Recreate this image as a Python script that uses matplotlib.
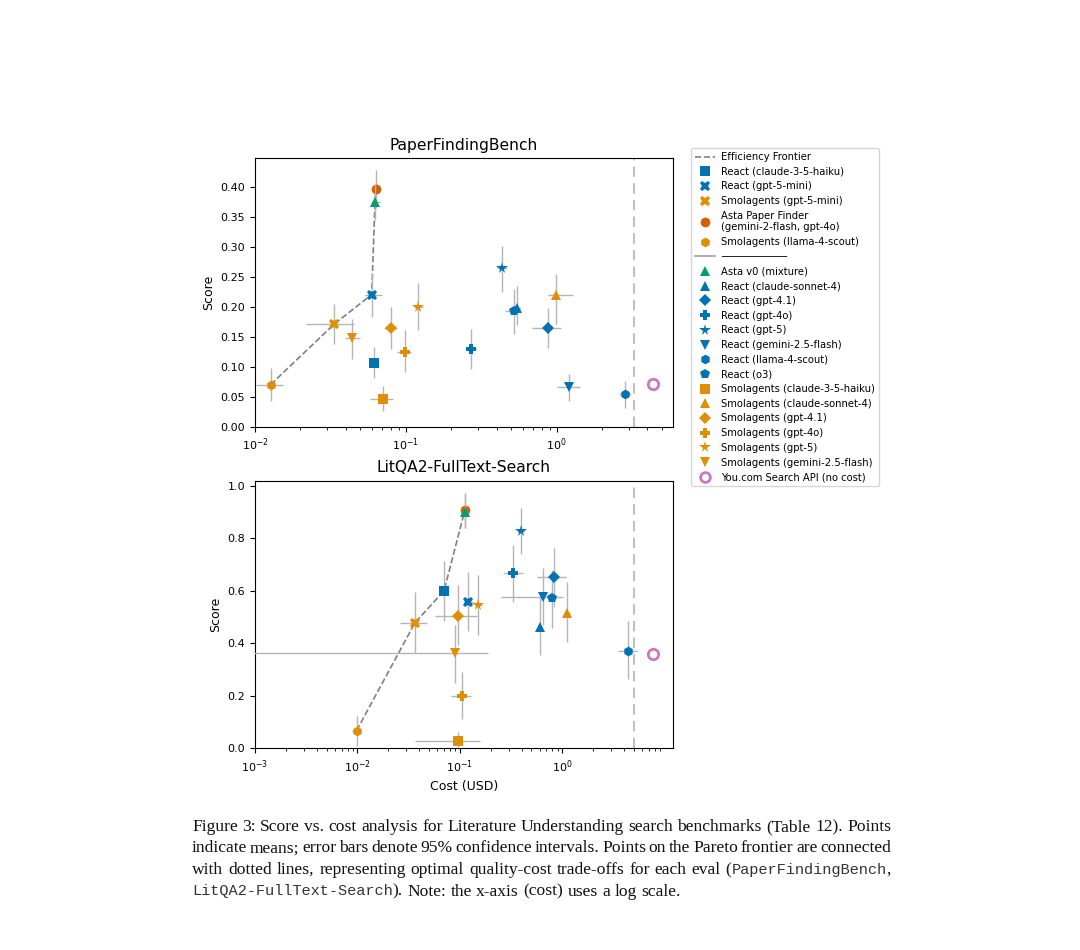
import matplotlib
matplotlib.use("Agg")
import matplotlib.pyplot as plt
from matplotlib.lines import Line2D
import matplotlib.ticker as mticker

# ---------------- data ----------------
AGENTS = [
    "React (claude-3-5-haiku)", "React (gpt-5-mini)", "Smolagents (gpt-5-mini)",
    "Asta Paper Finder\n(gemini-2-flash, gpt-4o)", "Smolagents (llama-4-scout)",
    "Asta v0 (mixture)", "React (claude-sonnet-4)", "React (gpt-4.1)", "React (gpt-4o)",
    "React (gpt-5)", "React (gemini-2.5-flash)", "React (llama-4-scout)", "React (o3)",
    "Smolagents (claude-3-5-haiku)", "Smolagents (claude-sonnet-4)", "Smolagents (gpt-4.1)",
    "Smolagents (gpt-4o)", "Smolagents (gpt-5)", "Smolagents (gemini-2.5-flash)",
]
NOCOST_LABEL = "You.com Search API (no cost)"

# PaperFindingBench (same order as AGENTS)
pf_cost    = [0.0612, 0.0594, 0.0336, 0.0632, 0.0127, 0.0625, 0.543, 0.871, 0.269, 0.432, 1.20, 2.84, 0.519, 0.0702, 0.99, 0.0797, 0.0983, 0.121, 0.0442]
pf_cost_lo = [0.0590, 0.0536, 0.0218, 0.0610, 0.0102, 0.0586, 0.510, 0.683, 0.250, 0.400, 1.00, 2.58, 0.455, 0.0579, 0.88, 0.0720, 0.0880, 0.113, 0.0396]
pf_cost_hi = [0.0640, 0.0692, 0.0453, 0.0660, 0.0154, 0.0673, 0.580, 1.070, 0.290, 0.470, 1.42, 3.10, 0.570, 0.0818, 1.29, 0.0880, 0.1090, 0.130, 0.0497]
pf_score    = [0.107, 0.221, 0.172, 0.397, 0.0708, 0.375, 0.199, 0.165, 0.130, 0.2646, 0.0669, 0.0546, 0.193, 0.0468, 0.221, 0.165, 0.125, 0.2006, 0.148]
pf_score_lo = [0.082, 0.183, 0.139, 0.365, 0.043, 0.345, 0.171, 0.1326, 0.0975, 0.2256, 0.0435, 0.0323, 0.156, 0.026, 0.1716, 0.131, 0.091, 0.162, 0.114]
pf_score_hi = [0.134, 0.257, 0.205, 0.429, 0.099, 0.405, 0.2357, 0.198, 0.163, 0.3025, 0.088, 0.0769, 0.231, 0.068, 0.256, 0.200, 0.162, 0.240, 0.181]
pf_frontier = ["Smolagents (llama-4-scout)", "Smolagents (gpt-5-mini)", "React (gpt-5-mini)",
               "Asta v0 (mixture)", "Asta Paper Finder\n(gemini-2-flash, gpt-4o)"]
pf_nocost_x, pf_nocost_y = 4.37, 0.0724
pf_divider = 3.27
pf_xticks = [1e-2, 1e-1, 1e0]

# LitQA2-FullText-Search (same order as AGENTS)
lq_cost    = [0.070, 0.119, 0.0365, 0.112, 0.0098, 0.112, 0.611, 0.824, 0.331, 0.392, 0.653, 4.35, 0.80, 0.0967, 1.11, 0.0951, 0.104, 0.151, 0.089]
lq_cost_lo = [0.067, 0.110, 0.0260, 0.108, 0.0088, 0.105, 0.590, 0.560, 0.265, 0.360, 0.250, 3.52, 0.75, 0.0365, 1.05, 0.0570, 0.082, 0.140, 0.000001]
lq_cost_hi = [0.073, 0.135, 0.0473, 0.116, 0.0108, 0.120, 0.630, 1.080, 0.417, 0.430, 1.020, 5.32, 0.86, 0.157, 1.18, 0.146, 0.1274, 0.165, 0.19]
lq_score    = [0.600, 0.559, 0.479, 0.9085, 0.0673, 0.902, 0.464, 0.653, 0.667, 0.828, 0.578, 0.372, 0.574, 0.028, 0.517, 0.5057, 0.2008, 0.546, 0.365]
lq_score_lo = [0.487, 0.447, 0.3647, 0.840, 0.0102, 0.840, 0.356, 0.540, 0.559, 0.741, 0.470, 0.264, 0.460, 0.0064, 0.407, 0.394, 0.110, 0.432, 0.250]
lq_score_hi = [0.714, 0.673, 0.5947, 0.975, 0.1245, 0.970, 0.575, 0.765, 0.775, 0.915, 0.686, 0.485, 0.680, 0.0635, 0.635, 0.6226, 0.292, 0.661, 0.470]
lq_frontier = ["Smolagents (llama-4-scout)", "Smolagents (gpt-5-mini)", "React (claude-3-5-haiku)",
               "Asta Paper Finder\n(gemini-2-flash, gpt-4o)"]
lq_nocost_x, lq_nocost_y = 7.74, 0.36
lq_divider = 5.05
lq_xticks = [1e-3, 1e-2, 1e-1, 1e0]

# ---------------- styles ----------------
BLUE, ORANGE, GREEN, RED, PINK = "#0173B2", "#DE8F05", "#029E73", "#D55E00", "#CC78BC"
STYLE = {
    "React (claude-3-5-haiku)": ("s", BLUE),
    "React (gpt-5-mini)": ("X", BLUE),
    "Smolagents (gpt-5-mini)": ("X", ORANGE),
    "Asta Paper Finder\n(gemini-2-flash, gpt-4o)": ("o", RED),
    "Smolagents (llama-4-scout)": ("h", ORANGE),
    "Asta v0 (mixture)": ("^", GREEN),
    "React (claude-sonnet-4)": ("^", BLUE),
    "React (gpt-4.1)": ("D", BLUE),
    "React (gpt-4o)": ("P", BLUE),
    "React (gpt-5)": ("*", BLUE),
    "React (gemini-2.5-flash)": ("v", BLUE),
    "React (llama-4-scout)": ("h", BLUE),
    "React (o3)": ("p", BLUE),
    "Smolagents (claude-3-5-haiku)": ("s", ORANGE),
    "Smolagents (claude-sonnet-4)": ("^", ORANGE),
    "Smolagents (gpt-4.1)": ("D", ORANGE),
    "Smolagents (gpt-4o)": ("P", ORANGE),
    "Smolagents (gpt-5)": ("*", ORANGE),
    "Smolagents (gemini-2.5-flash)": ("v", ORANGE),
}
MS = {"*": 8.5, "D": 6.5, "X": 7.5, "P": 7.5}
ZORD = {"Asta Paper Finder\n(gemini-2-flash, gpt-4o)": 3, "Asta v0 (mixture)": 4}

W, H = 1080, 950
fig = plt.figure(figsize=(W / 100, H / 100), dpi=100)
plt.rcParams["font.family"] = ["DejaVu Sans"]


def fx(px):
    return px / W


def fy(py):
    return 1 - py / H


ax1 = fig.add_axes([fx(255), fy(427), fx(672.5) - fx(255), fy(158) - fy(427)])
ax2 = fig.add_axes([fx(255), fy(748.3), fx(672.5) - fx(255), fy(480.7) - fy(748.3)])


def draw(ax, cost, clo, chi, score, slo, shi, frontier, nx, ny, divider):
    for i, name in enumerate(AGENTS):
        m, c = STYLE[name]
        ax.errorbar([cost[i]], [score[i]],
                    xerr=[[cost[i] - clo[i]], [chi[i] - cost[i]]],
                    yerr=[[score[i] - slo[i]], [shi[i] - score[i]]],
                    fmt=m, color=c, ms=MS.get(m, 7), mew=0,
                    ecolor="#b5b5b5", elinewidth=1.0, capsize=2, capthick=1.0,
                    zorder=ZORD.get(name, 3))
    idx = [AGENTS.index(n) for n in frontier]
    ax.plot([cost[i] for i in idx], [score[i] for i in idx], ls="--", color="#808080",
            lw=1.2, zorder=2.5)
    ax.axvline(divider, color="#c0c0c0", ls=(0, (5, 3)), lw=1.5, zorder=1)
    ax.plot([nx], [ny], "o", mfc="none", mec=PINK, mew=2, ms=7.5, zorder=3)
    ax.set_xscale("log")
    ax.set_ylabel("Score", fontsize=9)
    ax.tick_params(labelsize=8)


draw(ax1, pf_cost, pf_cost_lo, pf_cost_hi, pf_score, pf_score_lo, pf_score_hi,
     pf_frontier, pf_nocost_x, pf_nocost_y, pf_divider)
draw(ax2, lq_cost, lq_cost_lo, lq_cost_hi, lq_score, lq_score_lo, lq_score_hi,
     lq_frontier, lq_nocost_x, lq_nocost_y, lq_divider)

ax1.set_xlim(0.01, 5.87)
ax1.set_ylim(0, 0.449)
ax1.set_xticks(pf_xticks)
ax1.set_yticks([0, 0.05, 0.10, 0.15, 0.20, 0.25, 0.30, 0.35, 0.40])
ax1.yaxis.set_major_formatter(mticker.FormatStrFormatter("%.2f"))
ax1.set_title("PaperFindingBench", fontsize=11.2)

ax2.set_xlim(0.001, 11.9)
ax2.set_ylim(0, 1.02)
ax2.set_xticks(lq_xticks)
ax2.set_yticks([0, 0.2, 0.4, 0.6, 0.8, 1.0])
ax2.yaxis.set_major_formatter(mticker.FormatStrFormatter("%.1f"))
ax2.set_title("LitQA2-FullText-Search", fontsize=11.2)
ax2.set_xlabel("Cost (USD)", fontsize=9)
for ax in (ax1, ax2):
    ax.xaxis.set_minor_locator(mticker.LogLocator(base=10, subs=range(2, 10), numticks=20))
    ax.xaxis.set_minor_formatter(mticker.NullFormatter())

# ---------------- legend ----------------
handles = [Line2D([], [], color="#808080", ls="--", lw=1.2, label="Efficiency Frontier")]
for name in AGENTS[:5]:
    m, c = STYLE[name]
    handles.append(Line2D([], [], ls="none", marker=m, color=c, ms=MS.get(m, 7), mew=0, label=name))
handles.append(Line2D([], [], color="#a0a0a0", lw=1.2, label="\u2500" * 11))
for name in AGENTS[5:]:
    m, c = STYLE[name]
    handles.append(Line2D([], [], ls="none", marker=m, color=c, ms=MS.get(m, 7), mew=0, label=name))
handles.append(Line2D([], [], ls="none", marker="o", mfc="none", mec=PINK, mew=2, ms=7,
                      label=NOCOST_LABEL))
fig.legend(handles=handles, loc="upper left", bbox_to_anchor=(fx(691), fy(148)),
           borderaxespad=0, fontsize=7.2, labelspacing=0.47, handlelength=2.0,
           handletextpad=0.6, borderpad=0.4, frameon=True)

# ---------------- caption ----------------
SERIF = dict(family="Liberation Serif", size=12.6, color="#111111")
MONO = dict(family="Liberation Mono", size=11, color="#333333")
caption_lines = [
    ("Figure 3: Score vs. cost analysis for Literature Understanding search benchmarks (Table 12). Points", None),
    ("indicate means; error bars denote 95% confidence intervals. Points on the Pareto frontier are connected", None),
    ("with dotted lines, representing optimal quality-cost trade-offs for each eval (", "PaperFindingBench", ","),
    (None, "LitQA2-FullText-Search", "). Note: the x-axis (cost) uses a log scale."),
]

fig.canvas.draw()
rend = fig.canvas.get_renderer()


def measure(s, props):
    t = fig.text(0, 0, s, **props)
    w = t.get_window_extent(renderer=rend).width
    t.remove()
    return w


def build_words(line):
    # returns list of words; each word = list of (text, props)
    words = []
    if len(line) == 2:
        for w in line[0].split(" "):
            words.append([(w, SERIF)])
        return words
    pre, mono, post = line
    if pre is not None:
        parts = pre.split(" ")
        for w in parts[:-1]:
            words.append([(w, SERIF)])
        words.append([(parts[-1], SERIF), (mono, MONO)])
        post_parts = post.split(" ")
        words[-1].append((post_parts[0], SERIF))
        for w in post_parts[1:]:
            words.append([(w, SERIF)])
    else:
        post_parts = post.split(" ")
        words.append([(mono, MONO), (post_parts[0], SERIF)])
        for w in post_parts[1:]:
            words.append([(w, SERIF)])
    return words


left_px, right_px = 192, 891
baselines = [831, 852.5, 874, 895.5]
space_w = measure("x x", SERIF) - measure("xx", SERIF)
for li, line in enumerate(caption_lines):
    words = build_words(line)
    widths = [[measure(t, p) for t, p in w] for w in words]
    total = sum(sum(ws) for ws in widths)
    justify = li < 3
    gap = (right_px - left_px - total) / (len(words) - 1) if justify else space_w
    x = left_px
    for w, ws in zip(words, widths):
        for (t, p), wd in zip(w, ws):
            fig.text(fx(x), fy(baselines[li]), t, va="baseline", ha="left", **p)
            x += wd
        x += gap

fig.savefig("out.png", dpi=100)
